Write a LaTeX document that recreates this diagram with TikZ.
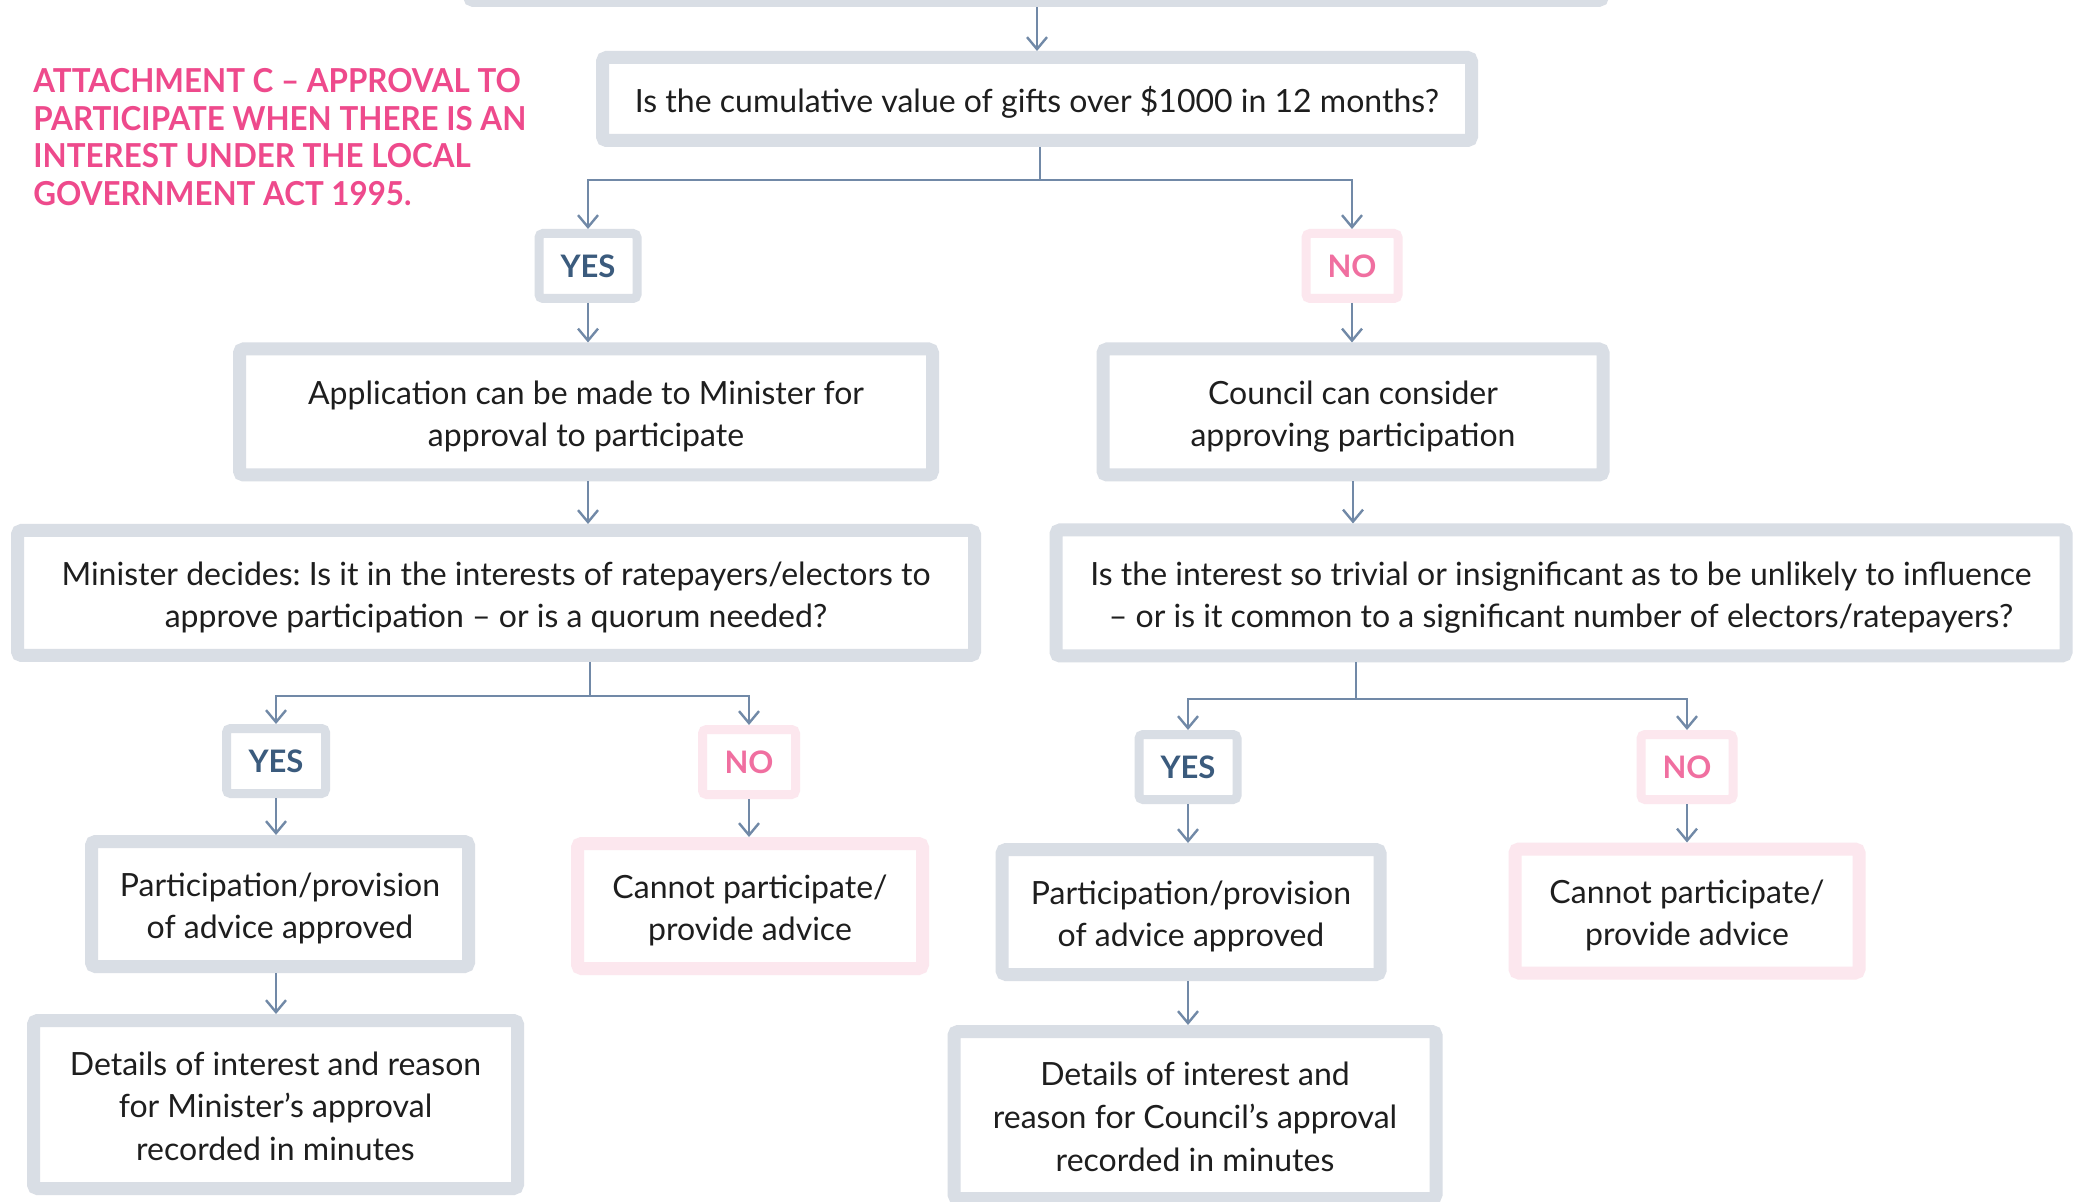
\documentclass[tikz,border=0pt]{standalone}
\usepackage{fontspec}
\setmainfont{Lato}
\newfontfamily\headfont[FakeStretch=0.95]{Lato}
\usetikzlibrary{arrows.meta}
\frenchspacing

\definecolor{boxgray}{HTML}{D9DEE5}
\definecolor{boxpink}{HTML}{FCE7EE}
\definecolor{linkblue}{HTML}{7189A7}
\definecolor{yesblue}{HTML}{3B5B7D}
\definecolor{nopink}{HTML}{F06FA0}
\definecolor{titlepink}{HTML}{EE4A8C}
\definecolor{ink}{HTML}{1E1E1E}

% struts that keep the capitals of a text block centred in its box
\newcommand{\capsup}{\rule{0pt}{1.12em}}
\newcommand{\capsdown}{\rule[-0.28em]{0pt}{0pt}}

\begin{document}
\begin{tikzpicture}[x=0.5pt,y=-0.5pt,
  % outer size of a thick-bordered box, given in picture units
  sz/.style 2 args={minimum width=#1*0.5pt-6.5pt, minimum height=#2*0.5pt-6.5pt},
  sm/.style 2 args={minimum width=#1*0.5pt-4.5pt, minimum height=#2*0.5pt-4.5pt},
  bigbox/.style={draw=boxgray, line width=6.5pt, rounded corners=2pt, fill=white,
    align=center, text=ink, inner sep=0pt, font=\fontsize{16}{21.4}\selectfont},
  pinkbox/.style={bigbox, draw=boxpink},
  yesbox/.style={draw=boxgray, line width=4.5pt, rounded corners=2pt, fill=white,
    inner sep=0pt, text=yesblue, font=\fontsize{15.5}{18}\selectfont\bfseries},
  nobox/.style={yesbox, draw=boxpink, text=nopink},
  plainline/.style={draw=linkblue, line width=1.2pt},
  link/.style={plainline, -{Straight Barb[length=6pt,width=10pt,line width=1.2pt]}},
  headline/.style={text=titlepink, align=left, inner sep=0pt,
    font=\headfont\fontsize{16.5}{18.85}\selectfont\bfseries}
]
\useasboundingbox[fill=white] (0,0) rectangle (2076,1202);

% title
\node[headline, anchor=north west] (title) at (33,68)
  {ATTACHMENT C – APPROVAL TO\\PARTICIPATE WHEN THERE IS AN\\INTEREST UNDER THE LOCAL\\GOVERNMENT ACT 1995.};

% boxes
\node[bigbox, sz={1146}{120}] (top) at (1036,-53) {};
\node[bigbox, sz={882}{96}] (q1) at (1037,99) {\capsup Is the cumulative value of gifts over \$1000 in 12 months?\capsdown};
\node[yesbox, sm={107}{74}] (yes1) at (588,266) {YES};
\node[nobox, sm={101}{74}] (no1) at (1352,266) {NO};
\node[bigbox, sz={706}{139}] (app) at (586,412) {\capsup Application can be made to Minister for\\approval to participate\capsdown};
\node[bigbox, sz={513}{139}] (council) at (1353,412) {\capsup Council can consider\\approving participation\capsdown};
\node[bigbox, sz={970}{138}] (minister) at (496,593) {\capsup Minister decides: Is it in the interests of ratepayers/electors to\\approve participation – or is a quorum needed?\capsdown};
\node[bigbox, sz={1023}{139}] (trivial) at (1561,593) {\capsup Is the interest so trivial or insignificant as to be unlikely to influence\\– or is it common to a significant number of electors/ratepayers?\capsdown};
\node[yesbox, sm={108}{74}] (yes2) at (276,761) {YES};
\node[nobox, sm={102}{74}] (no2) at (749,762) {NO};
\node[bigbox, sz={390}{138}] (part1) at (280,904) {\capsup Participation/provision\\of advice approved\capsdown};
\node[pinkbox, sz={358}{138}] (cannot1) at (750,906) {\capsup Cannot participate/\\provide advice\capsdown};
\node[bigbox, sz={497}{181}] (details1) at (275.5,1104.5) {\capsup Details of interest and reason\\for Minister’s approval\\recorded in minutes\capsdown};
\node[yesbox, sm={107}{74}] (yes3) at (1188,767) {YES};
\node[nobox, sm={101}{74}] (no3) at (1687,767) {NO};
\node[bigbox, sz={391}{138}] (part2) at (1191,912) {\capsup Participation/provision\\of advice approved\capsdown};
\node[pinkbox, sz={357}{137}] (cannot2) at (1687,911) {\capsup Cannot participate/\\provide advice\capsdown};
\node[bigbox, sz={495}{180}] (details2) at (1195,1115) {\capsup Details of interest and\\reason for Council’s approval\\recorded in minutes\capsdown};

% junctions of the forks
\coordinate (j1) at (1040,180);
\coordinate (j2) at (590,696);
\coordinate (j3) at (1356,699);

% connectors
\draw[link] (top.south -| q1.north) -- (q1.north);
\draw[plainline] (q1.south -| j1) -- (j1);
\draw[link] (j1) -| (yes1.north);
\draw[link] (j1) -| (no1.north);
\draw[link] (yes1.south) -- (yes1.south |- app.north);
\draw[link] (no1.south) -- (no1.south |- council.north);
\draw[link] (yes1.south |- app.south) -- (yes1.south |- minister.north);
\draw[link] (council.south) -- (council.south |- trivial.north);

\draw[plainline] (minister.south -| j2) -- (j2);
\draw[link] (j2) -| (yes2.north);
\draw[link] (j2) -| (no2.north);
\draw[link] (yes2.south) -- (yes2.south |- part1.north);
\draw[link] (no2.south) -- (no2.south |- cannot1.north);
\draw[link] (yes2.south |- part1.south) -- (yes2.south |- details1.north);

\draw[plainline] (trivial.south -| j3) -- (j3);
\draw[link] (j3) -| (yes3.north);
\draw[link] (j3) -| (no3.north);
\draw[link] (yes3.south) -- (yes3.south |- part2.north);
\draw[link] (no3.south) -- (no3.south |- cannot2.north);
\draw[link] (yes3.south |- part2.south) -- (yes3.south |- details2.north);
\end{tikzpicture}
\end{document}
